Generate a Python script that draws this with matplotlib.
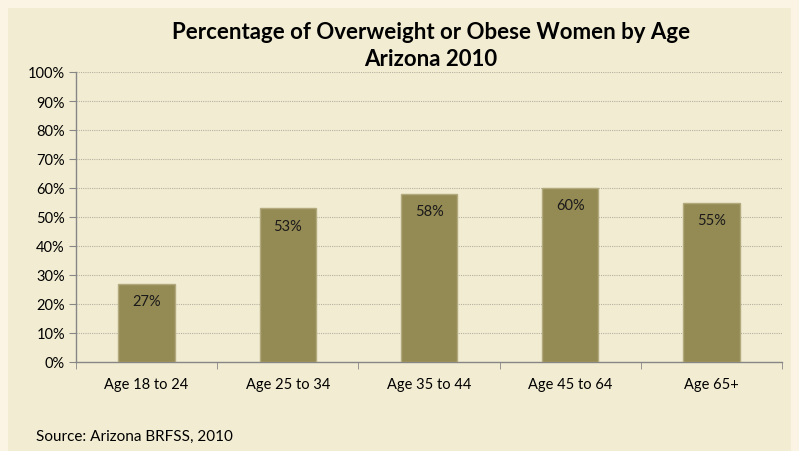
import matplotlib.pyplot as plt
from matplotlib.patches import Rectangle
from matplotlib.ticker import FixedLocator, PercentFormatter

categories = ["Age 18 to 24", "Age 25 to 34", "Age 35 to 44", "Age 45 to 64", "Age 65+"]
values = [27, 53, 58, 60, 55]
labels = ["27%", "53%", "58%", "60%", "55%"]

plt.rcParams["font.family"] = ["Lato", "DejaVu Sans"]

W, H = 799, 452
fig = plt.figure(figsize=(W / 100, H / 100), dpi=100)
fig.patch.set_facecolor("#FBF4E4")
# inner panel
fig.patches.append(Rectangle((8 / W, 0), 783 / W, 1 - 9 / H, transform=fig.transFigure,
                             facecolor="#F2EDD2", edgecolor="none", zorder=-1))

ax = fig.add_axes([76 / W, 1 - 363 / H, (782 - 76) / W, (363 - 73) / H])
ax.set_facecolor("none")
ax.set_zorder(2)

x = list(range(len(categories)))
bars = ax.bar(x, values, width=0.4, color="#948A54", edgecolor="#B2AA7E", linewidth=1, zorder=3)
for b, lab in zip(bars, labels):
    ax.annotate(lab, (b.get_x() + b.get_width() / 2, b.get_height()), xytext=(0, -7.5),
                textcoords="offset points", ha="center", va="top", fontsize=10.5, color="#1a1a1a", zorder=4)

ax.set_xlim(-0.5, len(categories) - 0.5)
ax.set_ylim(0, 100)
ax.set_yticks(range(0, 101, 10))
ax.yaxis.set_major_formatter(PercentFormatter(decimals=0))
ax.yaxis.grid(True, color="#B5B0A0", linestyle=(0, (1, 1)), linewidth=0.8, zorder=0)

ax.set_xticks(x)
ax.set_xticklabels(categories)
ax.xaxis.set_minor_locator(FixedLocator([i - 0.5 for i in range(len(categories) + 1)]))
ax.tick_params(axis="x", which="major", length=0, pad=11, labelsize=10.5)
ax.tick_params(axis="x", which="minor", length=5, color="#868686", direction="out")
ax.tick_params(axis="y", length=5, color="#868686", labelsize=10.5, pad=3)

for s in ["top", "right"]:
    ax.spines[s].set_visible(False)
for s in ["left", "bottom"]:
    ax.spines[s].set_color("#868686")
    ax.spines[s].set_linewidth(1)

fig.text(431 / W, 1 - 46 / H, "Percentage of Overweight or Obese Women by Age\nArizona 2010",
         ha="center", va="center", fontsize=16, fontweight="bold", linespacing=1.3)
fig.text(36 / W, 1 - 437 / H, "Source: Arizona BRFSS, 2010", ha="left", va="center", fontsize=11)

fig.savefig("out.png", dpi=100, facecolor=fig.get_facecolor())
